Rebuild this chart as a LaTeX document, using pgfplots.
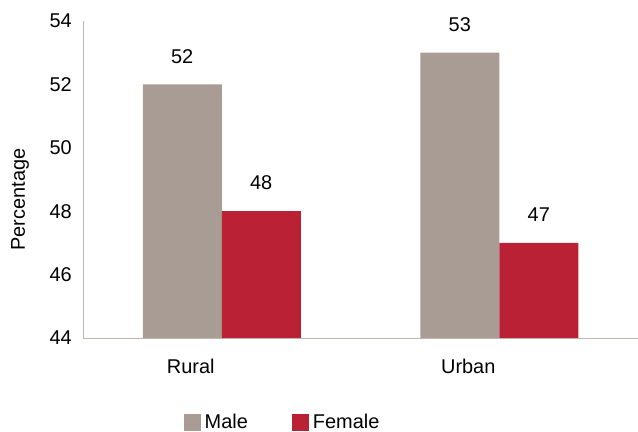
\documentclass[border=0pt]{standalone}
\usepackage{fontspec}
\setmainfont{Liberation Sans}
\usepackage{pgfplots}
\pgfplotsset{compat=1.18}

\definecolor{malecol}{HTML}{A89C94}
\definecolor{femalecol}{HTML}{BA2135}
\definecolor{axiscol}{HTML}{BFB6AF}

\begin{document}
\fontsize{20}{24}\selectfont
\begin{tikzpicture}
\useasboundingbox (0,0) rectangle (638bp,432bp);
\begin{axis}[
    at={(83bp,94bp)}, anchor=south west,
    scale only axis,
    width=555bp, height=348.7bp,
    xmin=-0.5, xmax=1.5,
    ymin=44, ymax=55,
    enlargelimits=false,
    ybar=0pt, bar width=79bp,
    axis x line=bottom, axis y line=left,
    x axis line style={-, draw=axiscol, line width=1bp},
    y axis line style={draw=none},
    major tick length=0pt,
    xtick={0,1}, xticklabels={Rural,Urban},
    ytick={44,46,48,50,52,54},
    /pgf/number format/assume math mode=true,
    tick label style={inner sep=0pt},
    yticklabel style={xshift=-11bp},
    xticklabel style={yshift=-21bp, xshift=-31bp},
    ylabel={Percentage},
    every axis y label/.style={at={(axis description cs:0,0.397)}, xshift=-63bp, rotate=90, anchor=center},
    nodes near coords,
    every node near coord/.append style={anchor=south, inner sep=0pt, yshift=21bp, text=black},
    legend columns=2,
    legend style={at={(0.182,-0.242)}, anchor=west, draw=none, inner sep=0pt,
        nodes={inner sep=3.5bp},
        /tikz/every even column/.append style={column sep=41bp}},
    legend image code/.code={\fill[#1, draw=none] (0bp,-8.5bp) rectangle (17bp,8.5bp);},
]
\addplot[fill=malecol, draw=none] coordinates {(0,52) (1,53)};
\addlegendentry{Male}
\addplot[fill=femalecol, draw=none] coordinates {(0,48) (1,47)};
\addlegendentry{Female}
\draw[axiscol, line width=1bp] (axis cs:-0.5,44) -- (axis cs:-0.5,54);
\end{axis}
\end{tikzpicture}
\end{document}
